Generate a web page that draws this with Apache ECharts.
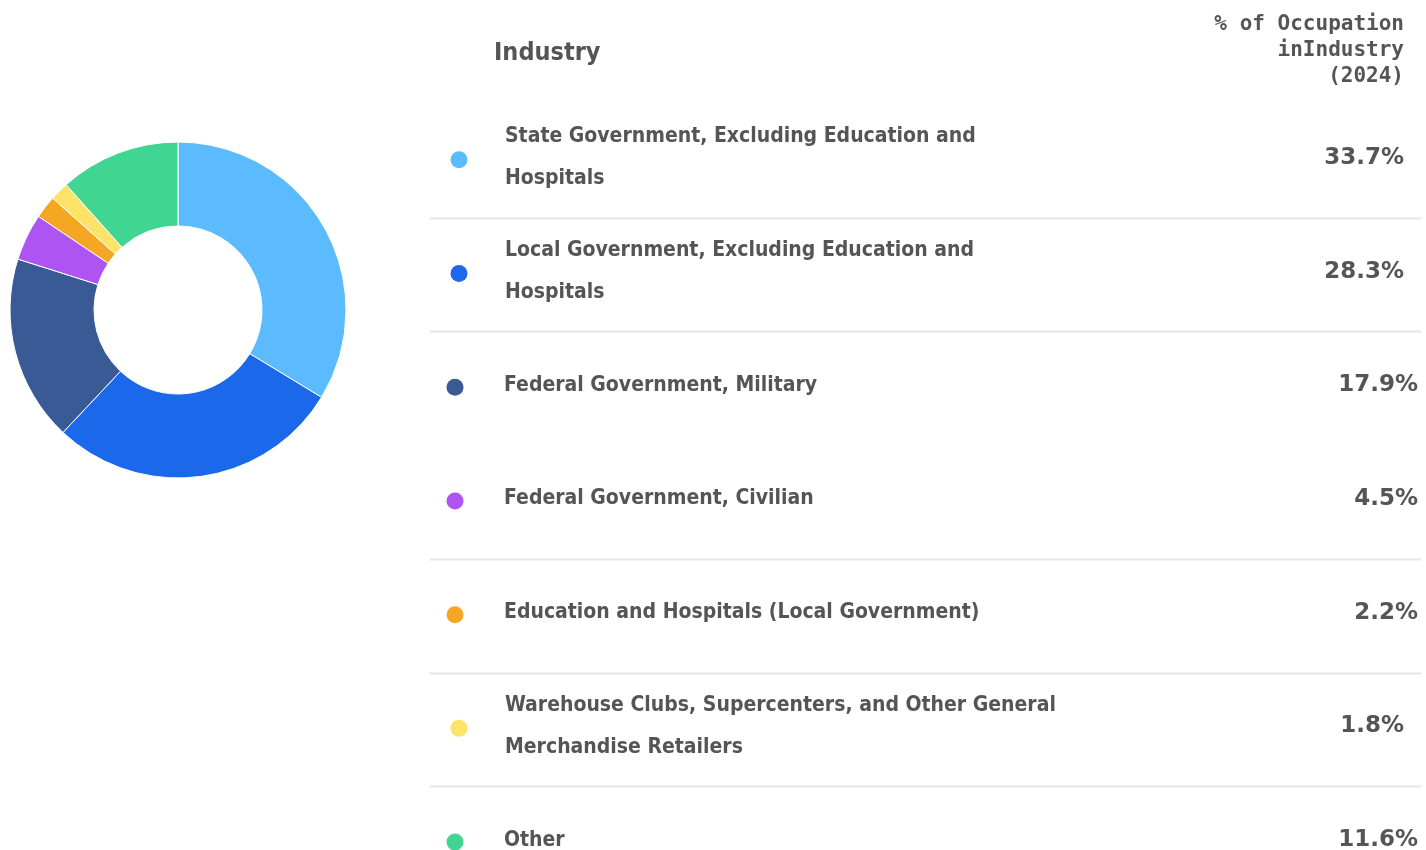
<!DOCTYPE html>
<html>
<head>
<meta charset="utf-8">
<script src="https://cdn.jsdelivr.net/npm/echarts@6/dist/echarts.min.js"></script>
<style>
  html, body { margin: 0; padding: 0; background: #fff; }
  #main { width: 1426px; height: 850px; }
</style>
</head>
<body>
<div id="main"></div>
<script>
const industries = [
  'State Government, Excluding Education and Hospitals',
  'Local Government, Excluding Education and Hospitals',
  'Federal Government, Military',
  'Federal Government, Civilian',
  'Education and Hospitals (Local Government)',
  'Warehouse Clubs, Supercenters, and Other General Merchandise Retailers',
  'Other'
];
const shares = [33.7, 28.3, 17.9, 4.5, 2.2, 1.8, 11.6];
const sliceColors = ['#5cbbff', '#1c68eb', '#3a5a96', '#ad54f2', '#f5a623', '#fde36a', '#40d591'];
const headerLabels = ['Industry', '% of Occupation\ninIndustry\n(2024)'];

const chart = echarts.init(document.getElementById('main'));

const textColor = '#555';
const labelFamily = '"DejaVu Sans Condensed", "DejaVu Sans", sans-serif';
const labelFont = 'bold 21px ' + labelFamily;
const wrapWidth = 575;
const rowTop = 104, rowH = 113.7;
// rows that have a divider under them (the reference skips one)
const dividers = [0, 1, 3, 4, 5];

// word wrap by hand so we know which rows go to two lines
const measure = document.createElement('canvas').getContext('2d');
measure.font = labelFont;
function wrap(text) {
  const words = text.split(' ');
  const lines = [];
  let cur = '';
  words.forEach(w => {
    const next = cur ? cur + ' ' + w : w;
    if (cur && measure.measureText(next).width > wrapWidth) {
      lines.push(cur);
      cur = w;
    } else {
      cur = next;
    }
  });
  lines.push(cur);
  return lines;
}

const graphics = [];
graphics.push({
  type: 'text', x: 494, y: 53,
  style: {text: headerLabels[0], fill: textColor, font: 'bold 25px ' + labelFamily, verticalAlign: 'middle'}
});
graphics.push({
  type: 'text', x: 1404, y: 51,
  style: {text: headerLabels[1], fill: textColor, font: 'bold 21px "DejaVu Sans Mono", monospace',
    align: 'right', verticalAlign: 'middle', lineHeight: 26}
});

industries.forEach((name, i) => {
  const cy = rowTop + rowH * i + rowH / 2 - 3;
  const lines = wrap(name);
  const multi = lines.length > 1;
  graphics.push({
    type: 'circle', shape: {cx: multi ? 459 : 455, cy: cy + 2, r: 8.5},
    style: {fill: sliceColors[i]}
  });
  graphics.push({
    type: 'text', x: multi ? 505 : 504, y: cy,
    style: {text: lines.join('\n'), fill: textColor, font: labelFont,
      lineHeight: 42, verticalAlign: 'middle'}
  });
  graphics.push({
    type: 'text', x: multi ? 1404 : 1418, y: cy,
    style: {text: shares[i].toFixed(1) + '%', fill: textColor, font: 'bold 23px "DejaVu Sans", sans-serif',
      align: 'right', verticalAlign: 'middle'}
  });
  if (dividers.indexOf(i) >= 0) {
    const ly = Math.round(rowTop + rowH * (i + 1)) + 0.5;
    graphics.push({
      type: 'line', shape: {x1: 430, y1: ly, x2: 1421, y2: ly},
      style: {stroke: '#e5e5e5', lineWidth: 2}
    });
  }
});

chart.setOption({
  animation: false,
  graphic: graphics,
  series: [{
    type: 'pie',
    center: [178, 310],
    radius: [84, 168],
    startAngle: 90,
    clockwise: true,
    label: {show: false},
    labelLine: {show: false},
    itemStyle: {borderColor: '#fff', borderWidth: 1},
    data: industries.map((name, i) => ({name: name, value: shares[i], itemStyle: {color: sliceColors[i]}}))
  }]
});
</script>
</body>
</html>
